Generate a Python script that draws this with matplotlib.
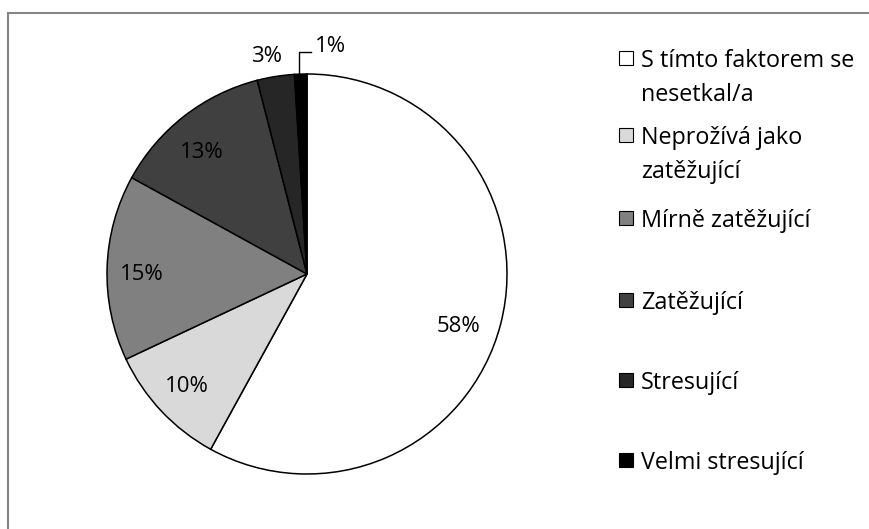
import matplotlib
matplotlib.use("Agg")
import matplotlib.pyplot as plt
from matplotlib.patches import Rectangle
from matplotlib.lines import Line2D

# data
kategorie = ["S tímto faktorem se\nnesetkal/a", "Neprožívá jako\nzatěžující",
             "Mírně zatěžující", "Zatěžující", "Stresující", "Velmi stresující"]
procenta = [58, 10, 15, 13, 3, 1]
barvy = ["#ffffff", "#d9d9d9", "#808080", "#404040", "#262626", "#000000"]

# umisteni popisku (v jednotkach polomeru)
popisky_xy = [(0.76, -0.26), (-0.60, -0.565), (-0.825, -0.005),
              (-0.525, 0.605), (-0.2, 1.085), (0.04, 1.14)]
popisky_ha = ["center", "center", "center", "center", "center", "left"]
legenda_y = [58, 135, 218, 300, 380, 460]   # pixely od horniho okraje
radek = 34                                  # vyska radku v legende (px)

plt.rcParams['font.family'] = ['Open Sans', 'DejaVu Sans']
W, H = 869, 529
fig = plt.figure(figsize=(W / 100, H / 100), dpi=100)

# ramecek grafu
fig.add_artist(Line2D([8 / W, 8 / W], [0, 1 - 13 / H], color="#868686", lw=1.5))
fig.add_artist(Line2D([8 / W, 1], [1 - 13 / H, 1 - 13 / H], color="#868686", lw=1.5))

ax = fig.add_axes([107 / W, 55 / H, 400 / W, 400 / H])
wedges, _ = ax.pie(procenta, colors=barvy, startangle=90, counterclock=False,
                   radius=1, wedgeprops=dict(edgecolor="black", linewidth=1.1))
ax.set_xlim(-1, 1)
ax.set_ylim(-1, 1)
ax.set_aspect("equal")
ax.axis("off")

for p, (x, y), ha in zip(procenta, popisky_xy, popisky_ha):
    ax.text(x, y, "%d%%" % p, ha=ha, va="center", fontsize=16)

# odkazova cara pro 1 %
ax.plot([-0.04, -0.04, 0.02], [1.005, 1.11, 1.11], color="black", lw=1, clip_on=False)

# legenda
for lab, c, y in zip(kategorie, barvy, legenda_y):
    fig.add_artist(Rectangle((619 / W, 1 - (y + 7) / H), 14 / W, 14 / H,
                             facecolor=c, edgecolor="black", linewidth=0.8))
    for i, t in enumerate(lab.split("\n")):
        fig.text(641 / W, 1 - (y + i * radek) / H, t, ha="left", va="center_baseline",
                 fontsize=16.8)

fig.savefig("out.png", dpi=100)
